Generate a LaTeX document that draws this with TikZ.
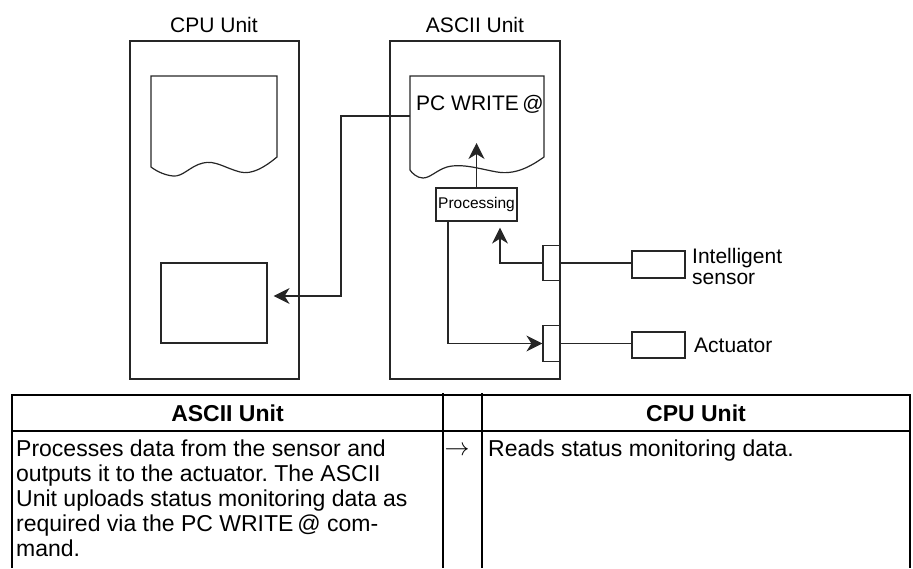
\documentclass[tikz,border=0pt]{standalone}
\usepackage{fontspec}
\setmainfont{Liberation Sans}
\usetikzlibrary{arrows.meta}
\frenchspacing
\begin{document}
\begin{tikzpicture}[x=1pt,y=-1pt,
  ln/.style={draw=black!85, line width=1.2pt},
  box/.style={ln, rectangle, inner sep=0pt, fill=none},
  arr/.style={ln, -{Stealth[length=16pt,width=16pt,inset=5pt]}},
  lbl/.style={font=\fontsize{21}{21}\selectfont, inner sep=0pt, align=left},
  tline/.style={draw=black, line width=2.7pt},
  tvline/.style={draw=black, line width=2.2pt},
  tbl/.style={font=\fontsize{23}{25}\selectfont, inner sep=0pt, align=left}]
\useasboundingbox (0,0) rectangle (913,568);

% unit frames
\node[box, minimum width=169pt, minimum height=338pt] (cpu) at (214.5,210) {};
\node[box, minimum width=170pt, minimum height=338pt] (ascii) at (475,210) {};
\node[lbl] (lcpu) at (214,25) {CPU Unit};
\node[lbl] (lascii) at (475,25) {ASCII Unit};

% document shapes
\draw[ln] (151,76) -- (277,76) -- (277,157)
  .. controls (265,167) and (252,175) .. (240,172)
  .. controls (225,168) and (215,160) .. (203,163)
  .. controls (190,166) and (183,177) .. (173,176)
  .. controls (163,175) and (155,170) .. (151,167) -- cycle;
\draw[ln] (410,76) -- (544,76) -- (544,157)
  .. controls (530,167) and (515,175) .. (497,172)
  .. controls (480,169) and (462,163) .. (447,167)
  .. controls (437,170) and (430,178) .. (423,178)
  .. controls (417,178) and (412,173) .. (410,170) -- cycle;
\coordinate (docL) at (410,116);
\node[lbl, anchor=west] (pcw) at (416,104) {PC WRITE\,@};

% inner elements
\node[box, minimum width=106pt, minimum height=80pt] (cpumem) at (214,303) {};
\node[box, minimum width=81pt, minimum height=33pt, font=\fontsize{15.5}{18}\selectfont] (proc) at (476.5,204.5) {Processing};
\node[box, minimum width=17pt, minimum height=35pt] (port1) at (551.5,263) {};
\node[box, minimum width=17pt, minimum height=36pt] (port2) at (551.5,343.5) {};
\node[box, minimum width=53pt, minimum height=27pt] (sensor) at (658.5,264.5) {};
\node[box, minimum width=53pt, minimum height=26pt] (act) at (658.5,345) {};
\node[lbl, anchor=west] (lsens) at (692,266.5) {Intelligent\\sensor};
\node[lbl, anchor=west] (lact) at (694,345) {Actuator};

% connectors
\coordinate (jog) at (341,116);
\draw[arr, shorten >=6pt] (docL) -- (jog) |- ([yshift=7pt]cpumem.east);
\coordinate (uptip) at (476.5,143);
\draw[arr] (proc.north) -- (uptip);
\draw[arr, shorten >=6pt] (port1.west) -| ([xshift=23.5pt]proc.south);
\draw[arr] ([xshift=-28.5pt]proc.south) |- (port2.west);
\draw[ln] (port1.east) -- (port1.east -| sensor.west);
\draw[ln] (port2.east) -- (port2.east -| act.west);

% table
\draw[tline] (12,395) -- (910,395);
\draw[tline] (12,431) -- (910,431);
\draw[tvline] (12,394) -- (12,568);
\draw[tvline] (443,393) -- (443,568);
\draw[tvline] (482,393) -- (482,568);
\draw[tvline] (910,394) -- (910,568);
\node[tbl, font=\fontsize{23}{25}\selectfont\bfseries] (h1) at (227.5,413) {ASCII Unit};
\node[tbl, font=\fontsize{23}{25}\selectfont\bfseries] (h2) at (696,413) {CPU Unit};
\node[tbl, anchor=north west] (b1) at (16,440) {Processes data from the sensor and\\outputs it to the actuator. The ASCII\\Unit uploads status monitoring data as\\required via the PC WRITE\,@ com-\\mand.};
\node[inner sep=0pt, font=\fontsize{27}{27}\selectfont] (tarr) at (457,451) {$\rightarrow$};
\node[tbl, anchor=north west] (b2) at (488,440) {Reads status monitoring data.};
\end{tikzpicture}
\end{document}
